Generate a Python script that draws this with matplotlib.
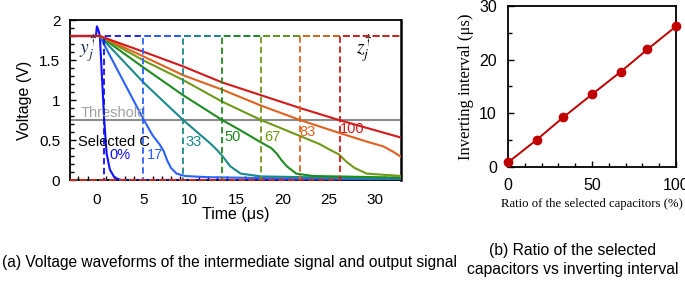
import matplotlib
matplotlib.use("Agg")
import matplotlib.pyplot as plt
from matplotlib.ticker import MultipleLocator

plt.rcParams['font.family'] = ['Liberation Sans', 'DejaVu Sans']
plt.rcParams['mathtext.fontset'] = 'stix'

# ---------------- data ----------------
percent_labels = ["0%", "17", "33", "50", "67", "83", "100"]
ratio = [0, 17, 33, 50, 67, 83, 100]
interval = [0.8, 5.0, 9.25, 13.5, 17.7, 21.9, 26.2]   # inverting interval (us)
threshold = 0.75
v_high = 1.8
colors = ['#1010ff', '#2a62ff', '#1b8a8a', '#1f8c1f', '#6e9a18', '#e0621e', '#d41a1a']

t_0 = [-2.9, -0.1, 0.0, 0.15, 0.32, 0.55, 0.79, 1.05, 1.4, 1.9, 2.6, 32.8]
v_0 = [1.8, 1.8, 1.92, 1.88, 1.8, 1.28, 0.75, 0.33, 0.13, 0.03, 0.0, 0.0]
t_17 = [-2.9, 0.3, 2.7, 5.07, 6.0, 6.8, 7.2, 7.6, 8.0, 8.6, 9.5, 12, 20, 32.8]
v_17 = [1.8, 1.8, 1.27, 0.75, 0.56, 0.44, 0.36, 0.24, 0.15, 0.08, 0.05, 0.035, 0.02, 0.01]
t_33 = [-2.9, 0.3, 5.1, 9.3, 11.1, 12.3, 13.0, 13.6, 14.4, 15.5, 17.7, 25, 32.8]
v_33 = [1.8, 1.8, 1.21, 0.75, 0.57, 0.45, 0.37, 0.29, 0.17, 0.08, 0.045, 0.03, 0.02]
t_50 = [-2.9, 0.3, 5.1, 9.3, 13.5, 15.5, 17.7, 18.8, 19.4, 19.9, 20.5, 21.5, 23.3, 32.8]
v_50 = [1.8, 1.8, 1.40, 1.06, 0.75, 0.62, 0.47, 0.40, 0.33, 0.25, 0.17, 0.08, 0.05, 0.03]
t_67 = [-2.9, 0.3, 5.1, 9.3, 13.5, 17.7, 21.9, 24.0, 25.1, 26.1, 26.9, 27.8, 29.1, 32.8]
v_67 = [1.8, 1.8, 1.49, 1.25, 0.98, 0.75, 0.55, 0.45, 0.38, 0.32, 0.23, 0.15, 0.08, 0.05]
t_83 = [-2.9, 0.3, 5.1, 9.3, 13.5, 17.7, 21.9, 26.1, 29.1, 30.9, 32.0, 32.8]
v_83 = [1.8, 1.8, 1.54, 1.31, 1.13, 0.93, 0.75, 0.59, 0.48, 0.42, 0.35, 0.29]
t_100 = [-2.9, 0.3, 5.1, 9.3, 13.5, 17.7, 21.9, 26.1, 32.8]
v_100 = [1.8, 1.8, 1.60, 1.42, 1.22, 1.06, 0.90, 0.75, 0.53]

curves_t = [t_0, t_17, t_33, t_50, t_67, t_83, t_100]
curves_v = [v_0, v_17, v_33, v_50, v_67, v_83, v_100]

label_pos_t = [1.4, 5.4, 9.5, 13.8, 18.1, 21.85, 26.2]
label_pos_v = [0.31, 0.31, 0.48, 0.54, 0.54, 0.60, 0.64]

# ---------------- figure ----------------
fig = plt.figure(figsize=(6.85, 2.85), dpi=100)
ax = fig.add_axes([70/685, 1-180/285, 331/685, 160/285])
xmin, xmax = -2.9, 32.8
ax.set_xlim(xmin, xmax)
ax.set_ylim(0, 2)

ax.axhline(threshold, color='#8c8c8c', lw=1.5, zorder=1)

for tt, vv, c in zip(curves_t, curves_v, colors):
    ax.plot(tt, vv, color=c, lw=1.5, zorder=3, clip_on=True)

for tk, c in zip(interval, colors):
    ax.plot([xmin, tk, tk, xmax], [0, 0, v_high, v_high], color=c, lw=1.3,
            ls=(0, (3.5, 2)), zorder=4, clip_on=False)

for lab, x, y, c in zip(percent_labels, label_pos_t, label_pos_v, colors):
    ax.text(x, y, lab, color=c, fontsize=10.5, ha='left', va='center', zorder=6)

ax.text(-1.8, 0.84, 'Threshold', color='#a0a0a0', fontsize=10.5, ha='left', va='center')
ax.text(-2.05, 0.475, 'Selected C', color='black', fontsize=10.5, ha='left', va='center')
ax.text(-0.9, 1.63, r'$y_j^{\dagger}$', color='#1a2a55', fontsize=14, ha='center', va='center')
ax.text(28.9, 1.63, r'$z_j^{\dagger}$', color='black', fontsize=14, ha='center', va='center')

ax.set_xticks([0, 5, 10, 15, 20, 25, 30])
ax.xaxis.set_minor_locator(MultipleLocator(1))
ax.set_yticks([0, 0.5, 1, 1.5, 2])
ax.set_yticklabels(['0', '0.5', '1', '1.5', '2'])
ax.yaxis.set_minor_locator(MultipleLocator(0.1))
ax.tick_params(which='both', direction='in', labelsize=11, top=False, right=False)
ax.tick_params(which='major', length=4, width=1.0, pad=7)
ax.tick_params(which='minor', length=3, width=1.0)
ax.tick_params(axis='x', which='major', length=0, pad=9)
ax.set_xlabel('Time (μs)', fontsize=11.5, labelpad=0)
ax.set_ylabel('Voltage (V)', fontsize=11.5, labelpad=5)
for s in ax.spines.values():
    s.set_linewidth(1.3)
ax.spines['right'].set_linewidth(1.8)

# ---------------- right chart ----------------
ax2 = fig.add_axes([508/685, 1-166.7/285, 168/685, 160.7/285])
ax2.plot(ratio, interval, color='#c00000', lw=1.4, marker='o', ms=6,
         mfc='#c00000', mec='#c00000', clip_on=False, zorder=5)
ax2.set_xlim(0, 100)
ax2.set_ylim(0, 30)
ax2.set_xticks([0, 50, 100])
ax2.xaxis.set_minor_locator(MultipleLocator(10))
ax2.set_yticks([0, 10, 20, 30])
ax2.yaxis.set_minor_locator(MultipleLocator(5))
ax2.tick_params(which='both', direction='in', labelsize=11.5, top=False, right=False)
ax2.tick_params(which='major', length=4, width=1.0, pad=8)
ax2.tick_params(which='minor', length=3, width=1.0)
ax2.set_xlabel('Ratio of the selected capacitors (%)', fontsize=9.2,
               family=['Liberation Serif', 'DejaVu Serif'], labelpad=4)
ax2.set_ylabel('Inverting interval (μs)', fontsize=12,
               family=['Liberation Serif', 'DejaVu Serif'], labelpad=4)
for s in ax2.spines.values():
    s.set_linewidth(1.3)

fig.text(2/685, 1-262/285, '(a) Voltage waveforms of the intermediate signal and output signal',
         fontsize=11.2, ha='left', va='center')
fig.text(573/685, 1-260/285, '(b) Ratio of the selected\ncapacitors vs inverting interval',
         fontsize=11.3, ha='center', va='center', linespacing=1.3)

fig.savefig('out.png', dpi=100)
